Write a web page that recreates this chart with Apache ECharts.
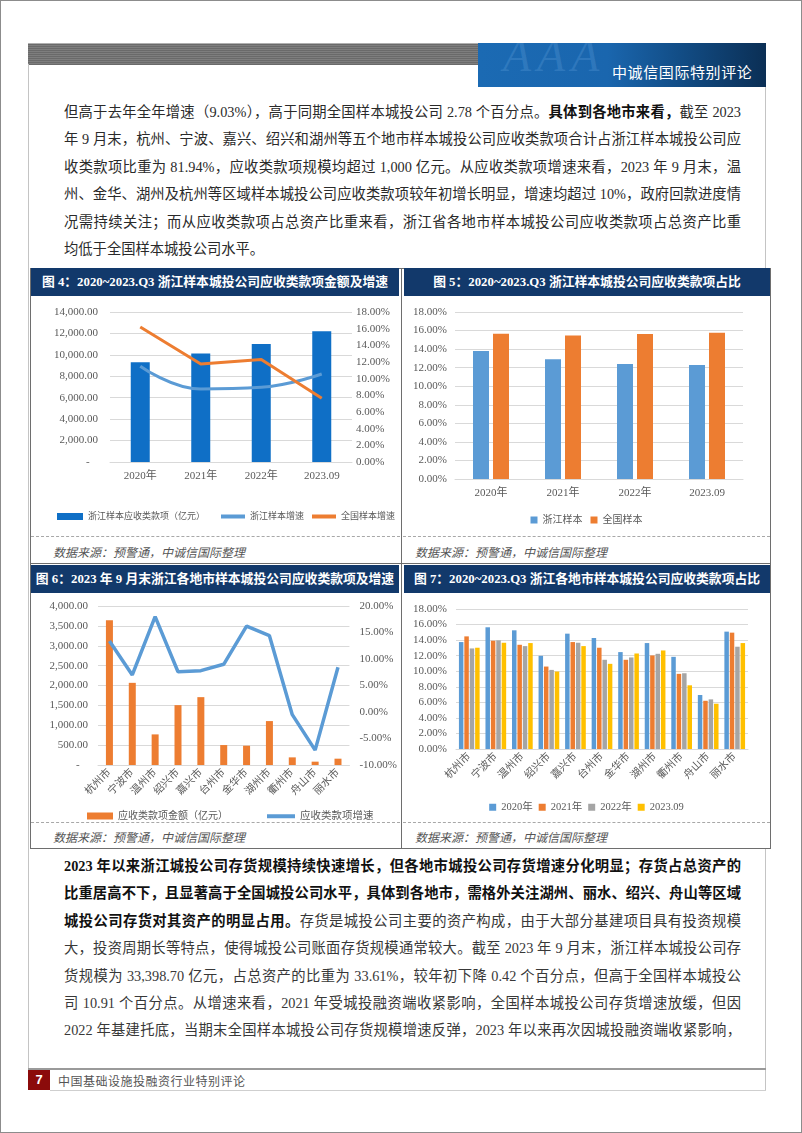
<!DOCTYPE html>
<html><head><meta charset="utf-8">
<script src="https://cdn.jsdelivr.net/npm/echarts/dist/echarts.min.js"></script>
<style>
html,body{margin:0;padding:0;background:#fff;}
#page{position:relative;width:802px;height:1133px;overflow:hidden;background:#fff;font-family:"Liberation Serif","Noto Sans CJK SC",serif;}
.abs{position:absolute;}
.para{position:absolute;left:64px;width:677px;font-size:14.3px;line-height:27.4px;color:#2a2a2a;}
.para div{text-align:justify;text-align-last:justify;white-space:nowrap;}
.para div.last{text-align-last:left;}
.para b{color:#111;font-weight:700;}
.title{position:absolute;height:28px;background:#12396b;color:#fff;font-weight:700;font-size:12.8px;line-height:28px;text-align:center;white-space:nowrap;}
.src{position:absolute;font-size:12px;font-style:italic;color:#555;white-space:nowrap;}
.dash{position:absolute;height:0;border-top:1px dashed #a8a8a8;}
.chart{position:absolute;}
</style></head>
<body>
<div id="page">
  <!-- outer border -->
  <div class="abs" style="left:0;top:0;width:800px;height:1131px;border:1px solid #8c8c8c;"></div>
  <!-- header -->
  <div class="abs" style="left:28px;top:43px;width:450px;height:21px;background:repeating-linear-gradient(180deg,#6a6a6a 0px,#6a6a6a 1px,#7e7e7e 1px,#7e7e7e 2px);border-top:1px solid #b0b0b0;"></div>
  <div class="abs" style="left:478px;top:43px;width:288px;height:44px;background:linear-gradient(90deg,#1b6ab3 0%,#1a66ae 45%,#124d86 70%,#0b2f55 100%);overflow:hidden;">
    <div class="abs" style="left:25px;top:-14px;font-size:46px;font-style:italic;color:rgba(120,180,235,0.22);letter-spacing:6px;">AAA</div>
    <div class="abs" style="left:134px;top:19px;font-family:'Noto Sans CJK SC';font-size:15px;line-height:20px;color:#fff;letter-spacing:0.6px;white-space:nowrap;">中诚信国际特别评论</div>
  </div>
  <!-- frame lines -->
  <div class="abs" style="left:28px;top:64px;width:1px;height:1004px;background:#c4c4c4;"></div>
  <div class="abs" style="left:765px;top:87px;width:1px;height:181px;background:#c4c4c4;"></div>
  <div class="abs" style="left:765px;top:848px;width:1px;height:242px;background:#c4c4c4;"></div>

  <!-- paragraph 1 -->
  <div class="para" style="top:99px;">
    <div>但高于去年全年增速（9.03%），高于同期全国样本城投公司 2.78 个百分点。<b>具体到各地市来看，</b>截至 2023</div>
    <div>年 9 月末，杭州、宁波、嘉兴、绍兴和湖州等五个地市样本城投公司应收类款项合计占浙江样本城投公司应</div>
    <div>收类款项比重为 81.94%，应收类款项规模均超过 1,000 亿元。从应收类款项增速来看，2023 年 9 月末，温</div>
    <div>州、金华、湖州及杭州等区域样本城投公司应收类款项较年初增长明显，增速均超过 10%，政府回款进度情</div>
    <div>况需持续关注；而从应收类款项占总资产比重来看，浙江省各地市样本城投公司应收类款项占总资产比重</div>
    <div class="last">均低于全国样本城投公司水平。</div>
  </div>

  <!-- chart table -->
  <div class="abs" style="left:30px;top:268px;width:739px;height:579px;border:1px solid #6e6e6e;"></div>
  <div class="abs" style="left:401px;top:268px;width:1px;height:581px;background:#6e6e6e;"></div>
  <div class="abs" style="left:30px;top:563px;width:741px;height:1px;background:#6e6e6e;"></div>

  <div class="title" style="left:31px;top:268px;width:368px;">图 4：2020~2023.Q3 浙江样本城投公司应收类款项金额及增速</div>
  <div class="title" style="left:404px;top:268px;width:366px;">图 5：2020~2023.Q3 浙江样本城投公司应收类款项占比</div>
  <div class="title" style="left:31px;top:565px;width:368px;">图 6：2023 年 9 月末浙江各地市样本城投公司应收类款项及增速</div>
  <div class="title" style="left:404px;top:565px;width:366px;">图 7：2020~2023.Q3 浙江各地市样本城投公司应收类款项占比</div>

  <div id="c4" class="chart" style="left:31px;top:296px;width:369px;height:240px;"></div>
  <div id="c5" class="chart" style="left:403px;top:296px;width:367px;height:240px;"></div>
  <div id="c6" class="chart" style="left:31px;top:593px;width:369px;height:229px;"></div>
  <div id="c7" class="chart" style="left:403px;top:593px;width:367px;height:229px;"></div>

  <div class="dash" style="left:31px;top:536px;width:369px;"></div>
  <div class="dash" style="left:403px;top:536px;width:367px;"></div>
  <div class="dash" style="left:31px;top:822px;width:369px;"></div>
  <div class="dash" style="left:403px;top:822px;width:367px;"></div>

  <div class="src" style="left:53px;top:543px;">数据来源：预警通，中诚信国际整理</div>
  <div class="src" style="left:415px;top:543px;">数据来源：预警通，中诚信国际整理</div>
  <div class="src" style="left:53px;top:828px;">数据来源：预警通，中诚信国际整理</div>
  <div class="src" style="left:415px;top:828px;">数据来源：预警通，中诚信国际整理</div>

  <!-- paragraph 2 -->
  <div class="para" style="top:853px;color:#383838;">
    <div><b>2023 年以来浙江城投公司存货规模持续快速增长，但各地市城投公司存货增速分化明显；存货占总资产的</b></div>
    <div><b>比重居高不下，且显著高于全国城投公司水平，具体到各地市，需格外关注湖州、丽水、绍兴、舟山等区域</b></div>
    <div><b>城投公司存货对其资产的明显占用。</b>存货是城投公司主要的资产构成，由于大部分基建项目具有投资规模</div>
    <div>大，投资周期长等特点，使得城投公司账面存货规模通常较大。截至 2023 年 9 月末，浙江样本城投公司存</div>
    <div>货规模为 33,398.70 亿元，占总资产的比重为 33.61%，较年初下降 0.42 个百分点，但高于全国样本城投公</div>
    <div>司 10.91 个百分点。从增速来看，2021 年受城投融资端收紧影响，全国样本城投公司存货增速放缓，但因</div>
    <div>2022 年基建托底，当期末全国样本城投公司存货规模增速反弹，2023 年以来再次因城投融资端收紧影响，</div>
  </div>

  <!-- footer -->
  <div class="abs" style="left:28px;top:1068px;width:738px;height:2px;background:#9a9a9a;"></div>
  <div class="abs" style="left:28px;top:1070px;width:22px;height:20px;background:#8b0b0b;color:#fff;font-family:'Liberation Sans';font-weight:700;font-size:13px;line-height:20px;text-align:center;">7</div>
  <div class="abs" style="left:50px;top:1090px;width:716px;height:1px;background:#cfcfcf;"></div>
  <div class="abs" style="left:58px;top:1073px;font-family:'Noto Sans CJK SC';font-size:12px;line-height:16px;color:#555;letter-spacing:0.5px;white-space:nowrap;">中国基础设施投融资行业特别评论</div>
</div>

<script>
// ---------- data ----------
const years = ['2020年', '2021年', '2022年', '2023.09'];
const zjReceivables = [9300, 10120, 11020, 12200];          // 浙江样本应收类款项（亿元）
const zjGrowth = [11.5, 8.76, 8.96, 10.56];                 // 浙江样本增速 %
const nationalGrowth = [16.2, 11.75, 12.3, 7.65];           // 全国样本增速 %
const zjShare = [13.8, 12.9, 12.4, 12.3];                   // 浙江样本占比 %
const nationalShare = [15.66, 15.48, 15.63, 15.77];         // 全国样本占比 %

const cities = ['杭州市', '宁波市', '温州市', '绍兴市', '嘉兴市', '台州市', '金华市', '湖州市', '衢州市', '舟山市', '丽水市'];
const cityReceivables = [3640, 2067, 770, 1506, 1707, 502, 485, 1105, 192, 84, 159];
const cityGrowth = [13.4, 7.0, 18.0, 7.6, 7.8, 9.0, 16.2, 14.4, -0.5, -7.2, 8.45];

const share2020 = [13.75, 15.65, 15.26, 11.98, 14.83, 14.27, 12.46, 13.62, 11.85, 6.94, 15.09];
const share2021 = [14.48, 13.92, 13.40, 10.60, 13.75, 13.02, 11.47, 12.03, 9.66, 6.20, 14.96];
const share2022 = [12.93, 13.97, 13.23, 10.17, 13.66, 11.47, 11.77, 12.24, 9.74, 6.38, 13.15];
const share202309 = [13.02, 13.66, 13.62, 9.96, 13.23, 10.95, 12.28, 12.67, 8.19, 5.82, 13.62];

const shareSeriesNames = ['2020年', '2021年', '2022年', '2023.09'];

// ---------- helpers ----------
function fmtAmount(v) {
  if (v === 0) return '-   ';
  const s = v.toFixed(2);
  const parts = s.split('.');
  parts[0] = parts[0].replace(/\B(?=(\d{3})+(?!\d))/g, ',');
  return parts.join('.');
}
function fmtPct(v) { return v.toFixed(2) + '%'; }

const numFont = { fontFamily: 'Liberation Serif', fontSize: 11, color: '#595959' };
const catFont = { fontFamily: 'Liberation Serif, Noto Sans CJK SC', fontSize: 11, color: '#595959' };
const legendText = { fontFamily: 'Liberation Serif, Noto Sans CJK SC', fontSize: 10.5, color: '#595959' };
const midLegendText = { fontFamily: 'Liberation Serif, Noto Sans CJK SC', fontSize: 10, color: '#595959' };
const smallLegendText = { fontFamily: 'Liberation Serif, Noto Sans CJK SC', fontSize: 9, color: '#595959' };
const gridLine = { lineStyle: { color: '#d9d9d9', width: 1 } };
const axisLineGrey = { lineStyle: { color: '#d9d9d9' } };

const BLUE_DARK = '#0f6fc6', BLUE = '#5b9bd5', ORANGE = '#ed7d31', GREY = '#a5a5a5', GOLD = '#ffc000';

// ---------- Fig 4 ----------
const c4 = echarts.init(document.getElementById('c4'));
c4.setOption({
  animation: false,
  grid: { left: 79, right: 48, top: 16, bottom: 74 },
  xAxis: { type: 'category', data: years, axisTick: { show: false }, axisLine: axisLineGrey, axisLabel: Object.assign({ margin: 9 }, catFont) },
  yAxis: [
    { type: 'value', min: 0, max: 14000, interval: 2000, axisLine: { show: false }, axisTick: { show: false },
      axisLabel: Object.assign({ margin: 12, formatter: fmtAmount }, numFont), splitLine: gridLine },
    { type: 'value', min: 0, max: 18, interval: 2, axisLine: { show: false }, axisTick: { show: false },
      axisLabel: Object.assign({ margin: 4, formatter: fmtPct }, numFont), splitLine: { show: false } }
  ],
  legend: [
    { left: 26, top: 216, padding: 0, width: 200, icon: 'rect', itemWidth: 26, itemHeight: 7, itemGap: 8, textStyle: smallLegendText, data: ['浙江样本应收类款项（亿元）'] },
    { left: 190, top: 216, padding: 0, width: 200, icon: 'rect', itemWidth: 24, itemHeight: 4, itemGap: 8, textStyle: smallLegendText, data: ['浙江样本增速', '全国样本增速'] }
  ],
  series: [
    { name: '浙江样本应收类款项（亿元）', type: 'bar', data: zjReceivables, barWidth: 19, itemStyle: { color: BLUE_DARK } },
    { name: '浙江样本增速', type: 'line', yAxisIndex: 1, data: zjGrowth, smooth: 0.45, symbol: 'none',
      lineStyle: { width: 3, color: BLUE }, itemStyle: { color: BLUE } },
    { name: '全国样本增速', type: 'line', yAxisIndex: 1, data: nationalGrowth, symbol: 'none',
      lineStyle: { width: 3, color: ORANGE }, itemStyle: { color: ORANGE } }
  ]
});

// ---------- Fig 5 ----------
const c5 = echarts.init(document.getElementById('c5'));
c5.setOption({
  animation: false,
  grid: { left: 52, right: 27, top: 16, bottom: 57 },
  xAxis: { type: 'category', data: years, axisTick: { show: false }, axisLine: axisLineGrey, axisLabel: Object.assign({ margin: 9 }, catFont) },
  yAxis: { type: 'value', min: 0, max: 18, interval: 2, axisLine: { show: false }, axisTick: { show: false },
    axisLabel: Object.assign({ margin: 8, formatter: fmtPct }, numFont), splitLine: gridLine },
  legend: { left: 'center', top: 219, padding: 0, icon: 'rect', itemWidth: 7, itemHeight: 7, itemGap: 8, textStyle: midLegendText, data: ['浙江样本', '全国样本'] },
  series: [
    { name: '浙江样本', type: 'bar', data: zjShare, barWidth: 16, barGap: '25%', itemStyle: { color: BLUE } },
    { name: '全国样本', type: 'bar', data: nationalShare, barWidth: 16, barGap: '25%', itemStyle: { color: ORANGE } }
  ]
});

// ---------- Fig 6 ----------
const c6 = echarts.init(document.getElementById('c6'));
c6.setOption({
  animation: false,
  grid: { left: 67, right: 47, top: 13, bottom: 57 },
  xAxis: { type: 'category', data: cities, axisTick: { show: false }, axisLine: axisLineGrey,
    axisLabel: Object.assign({ margin: 6, rotate: 45, interval: 0 }, catFont, { fontSize: 10.5 }) },
  yAxis: [
    { type: 'value', min: 0, max: 4000, interval: 500, axisLine: { show: false }, axisTick: { show: false },
      axisLabel: Object.assign({ margin: 10, formatter: fmtAmount }, numFont), splitLine: gridLine },
    { type: 'value', min: -10, max: 20, interval: 5, axisLine: { show: false }, axisTick: { show: false },
      axisLabel: Object.assign({ margin: 10, formatter: fmtPct }, numFont), splitLine: { show: false } }
  ],
  legend: [
    { left: 56, top: 218, padding: 0, icon: 'rect', itemWidth: 26, itemHeight: 7, textStyle: midLegendText, data: ['应收类款项金额（亿元）'] },
    { left: 236, top: 218, padding: 0, icon: 'rect', itemWidth: 28, itemHeight: 4, textStyle: legendText, data: ['应收类款项增速'] }
  ],
  series: [
    { name: '应收类款项金额（亿元）', type: 'bar', data: cityReceivables, barWidth: 7, itemStyle: { color: ORANGE } },
    { name: '应收类款项增速', type: 'line', yAxisIndex: 1, data: cityGrowth, symbol: 'none',
      lineStyle: { width: 3.5, color: BLUE }, itemStyle: { color: BLUE } }
  ]
});

// ---------- Fig 7 ----------
const c7 = echarts.init(document.getElementById('c7'));
const shareData = [share2020, share2021, share2022, share202309];
const shareColors = [BLUE, ORANGE, GREY, GOLD];
c7.setOption({
  animation: false,
  grid: { left: 53, right: 22, top: 16, bottom: 73 },
  xAxis: { type: 'category', data: cities, axisTick: { show: false }, axisLine: axisLineGrey,
    axisLabel: Object.assign({ margin: 6, rotate: 45, interval: 0 }, catFont, { fontSize: 10.5 }) },
  yAxis: { type: 'value', min: 0, max: 18, interval: 2, axisLine: { show: false }, axisTick: { show: false },
    axisLabel: Object.assign({ margin: 9, formatter: fmtPct }, numFont), splitLine: gridLine },
  legend: { left: 'center', top: 209, padding: 0, icon: 'rect', itemWidth: 7, itemHeight: 7, itemGap: 6, textStyle: legendText, data: shareSeriesNames },
  series: shareSeriesNames.map((n, i) => ({
    name: n, type: 'bar', data: shareData[i], barWidth: 4.5, barGap: '20%', itemStyle: { color: shareColors[i] }
  }))
});
</script>
</body></html>
